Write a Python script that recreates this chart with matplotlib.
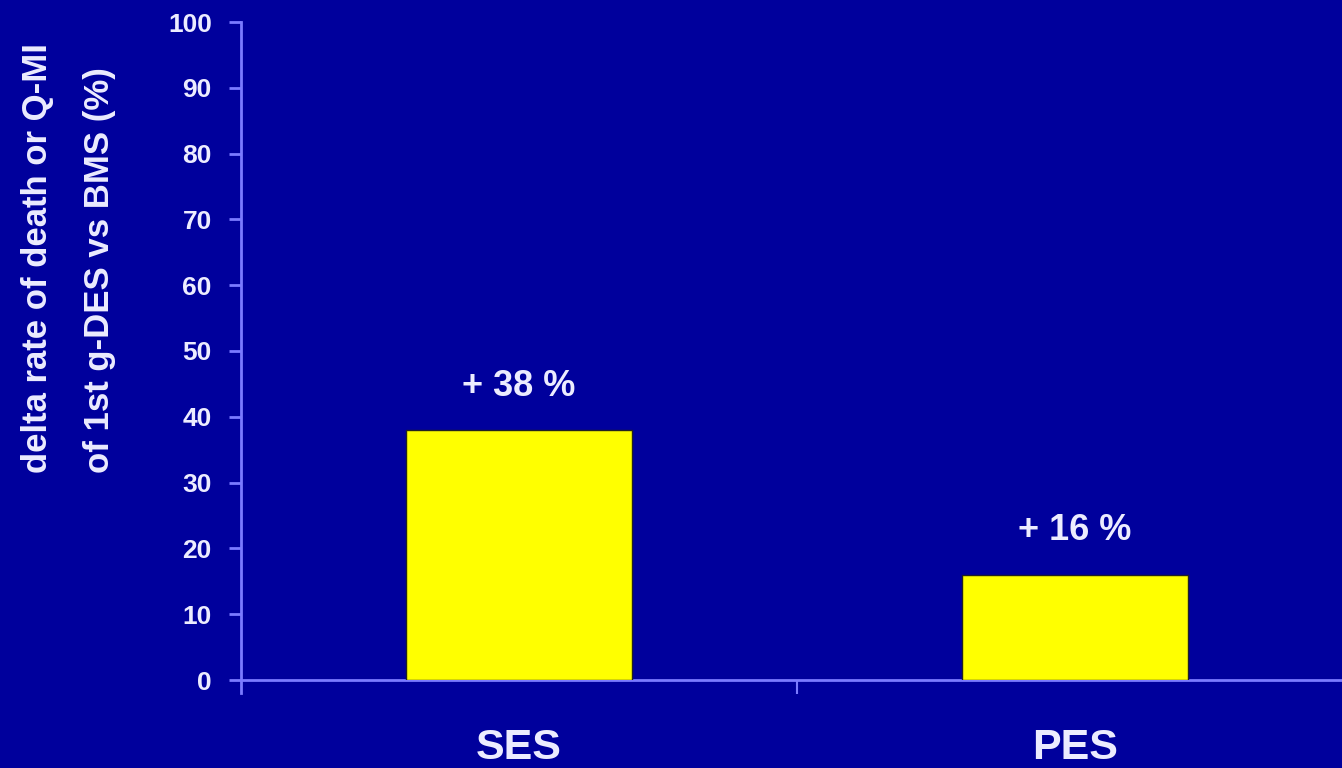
import matplotlib
matplotlib.use("Agg")
import matplotlib.pyplot as plt

categories = ["SES", "PES"]
delta_values = [38, 16]
value_labels = ["+ 38 %", "+ 16 %"]
y_ticks = [0, 10, 20, 30, 40, 50, 60, 70, 80, 90, 100]

BG = "#00009c"
AXIS = "#7b7bff"
TEXT = "#ececff"
BAR = "#ffff00"


def main():
    plt.rcParams["font.family"] = ["Liberation Sans", "DejaVu Sans"]
    plt.rcParams["font.weight"] = "bold"

    fig = plt.figure(figsize=(13.42, 7.68), dpi=100, facecolor=BG)
    # axes runs a little past the right edge so the baseline reaches the border
    ax = fig.add_axes([241 / 1342, 88 / 768, 1112 / 1342, 658 / 768])
    ax.set_facecolor(BG)

    x = list(range(len(categories)))
    ax.bar(x, delta_values, width=0.405, color=BAR, edgecolor="#222222",
           linewidth=1.0, zorder=3)

    for xi, v, lab in zip(x, delta_values, value_labels):
        ax.text(xi, v + 4, lab, ha="center", va="bottom", color=TEXT,
                fontsize=26, fontweight="bold")

    ax.set_xlim(-0.5, 1.5)
    ax.set_ylim(0, 100)
    ax.set_yticks(y_ticks)
    ax.set_xticks([0.5])
    ax.set_xticklabels([""])

    for side in ["top", "right"]:
        ax.spines[side].set_visible(False)
    ax.spines["left"].set_color(AXIS)
    ax.spines["bottom"].set_color(AXIS)
    ax.spines["left"].set_linewidth(2)
    ax.spines["bottom"].set_linewidth(2)
    ax.spines["left"].set_bounds(-2, 100)

    ax.tick_params(axis="y", colors=AXIS, labelcolor=TEXT, labelsize=19,
                   length=9, width=2, direction="out", pad=12)
    ax.tick_params(axis="x", colors=AXIS, length=10, width=1.5,
                   direction="out")

    for xi, cat in zip(x, categories):
        fig.text((241 + 556 * (xi + 0.5)) / 1342, 1 - 748 / 768, cat,
                 ha="center", va="center", color=TEXT, fontsize=31,
                 fontweight="bold")

    fig.text(38 / 1342, 1 - 258 / 768, "delta rate of death or Q-MI",
             rotation=90, ha="center", va="center", color=TEXT, fontsize=25,
             fontweight="bold")
    fig.text(100 / 1342, 1 - 270 / 768, "of 1st g-DES vs BMS (%)",
             rotation=90, ha="center", va="center", color=TEXT, fontsize=25,
             fontweight="bold")

    fig.savefig("out.png", dpi=100, facecolor=BG)


if __name__ == "__main__":
    main()
